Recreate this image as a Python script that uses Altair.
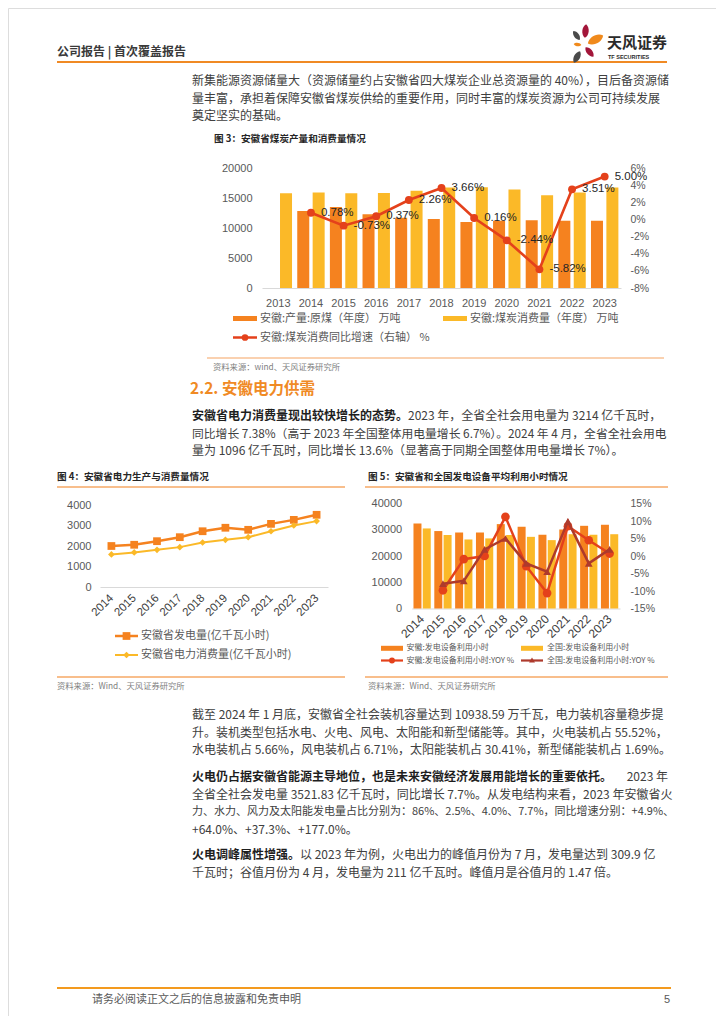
import altair as alt
import pandas as pd

# ---------------- Figure 3: coal output / consumption ----------------
coal_years = ["2013", "2014", "2015", "2016", "2017", "2018", "2019", "2020", "2021", "2022", "2023"]
coal_output = [None, 12850, 13500, 12300, 11700, 11500, 11000, 11200, 11300, 11200, 11200]
coal_consumption = [15800, 15900, 15800, 15850, 16200, 16750, 16800, 16400, 15450, 15900, 16750]
coal_growth = [None, 0.78, -0.73, 0.37, 2.26, 3.66, 0.16, -2.44, -5.82, 3.51, 5.00]
coal_series = ["安徽:产量:原煤（年度） 万吨", "安徽:煤炭消费量（年度） 万吨"]
coal_line_name = "安徽:煤炭消费同比增速（右轴） %"
coal_left_ticks = [0, 5000, 10000, 15000, 20000]
coal_right_ticks = [-8, -6, -4, -2, 0, 2, 4, 6]

# ---------------- Figure 4: power generation / consumption ----------------
power_years = ["2014", "2015", "2016", "2017", "2018", "2019", "2020", "2021", "2022", "2023"]
power_generation = [2000, 2060, 2235, 2430, 2720, 2890, 2790, 3080, 3275, 3522]
power_consumption = [1590, 1685, 1815, 1945, 2170, 2300, 2430, 2720, 3000, 3214]
power_names = ["安徽省发电量(亿千瓦小时)", "安徽省电力消费量(亿千瓦小时)"]
power_ticks = [0, 1000, 2000, 3000, 4000]

# ---------------- Figure 5: utilisation hours ----------------
hours_years = ["2014", "2015", "2016", "2017", "2018", "2019", "2020", "2021", "2022", "2023"]
hours_anhui = [32400, 29500, 28950, 28950, 32150, 31100, 28100, 30100, 31500, 31900]
hours_china = [30500, 28000, 26300, 26700, 28000, 27300, 26050, 28300, 28100, 28300]
yoy_anhui = [None, -9.8, -0.9, 0.0, 11.2, -2.9, -10.6, 8.5, 4.5, 0.7]
yoy_china = [None, -7.9, -7.1, 1.9, 5.0, -2.1, -4.5, 9.9, -2.1, 1.9]
hours_names = ["安徽:发电设备利用小时", "全国:发电设备利用小时",
               "安徽:发电设备利用小时:YOY %", "全国:发电设备利用小时:YOY %"]
hours_left_ticks = [0, 10000, 20000, 30000, 40000]
hours_right_ticks = [-15, -10, -5, 0, 5, 10, 15]

# ---------------- page text ----------------
header_text = "公司报告 | 首次覆盖报告"
para1 = ["新集能源资源储量大（资源储量约占安徽省四大煤炭企业总资源量的 40%），目后备资源储",
         "量丰富，承担着保障安徽省煤炭供给的重要作用，同时丰富的煤炭资源为公司可持续发展",
         "奠定坚实的基础。"]
fig3_title = "图 3：安徽省煤炭产量和消费量情况"
src1 = "资料来源：wind、天风证券研究所"
heading = "2.2. 安徽电力供需"
para2_bold = "安徽省电力消费量现出较快增长的态势。"
para2 = ["2023 年，全省全社会用电量为 3214 亿千瓦时，",
         "同比增长 7.38%（高于 2023 年全国整体用电量增长 6.7%）。2024 年 4 月，全省全社会用电",
         "量为 1096 亿千瓦时，同比增长 13.6%（显著高于同期全国整体用电量增长 7%）。"]
fig4_title = "图 4：安徽省电力生产与消费量情况"
fig5_title = "图 5：安徽省和全国发电设备平均利用小时情况"
src2 = "资料来源：Wind、天风证券研究所"
para3 = ["截至 2024 年 1 月底，安徽省全社会装机容量达到 10938.59 万千瓦，电力装机容量稳步提",
         "升。装机类型包括水电、火电、风电、太阳能和新型储能等。其中，火电装机占 55.52%，",
         "水电装机占 5.66%，风电装机占 6.71%，太阳能装机占 30.41%，新型储能装机占 1.69%。"]
para4_bold = "火电仍占据安徽省能源主导地位，也是未来安徽经济发展用能增长的重要依托。"
para4 = ["2023 年",
         "全省全社会发电量 3521.83 亿千瓦时，同比增长 7.7%。从发电结构来看，2023 年安徽省火",
         "力、水力、风力及太阳能发电量占比分别为：86%、2.5%、4.0%、7.7%，同比增速分别：+4.9%、",
         "+64.0%、+37.3%、+177.0%。"]
para5_bold = "火电调峰属性增强。"
para5 = ["以 2023 年为例，火电出力的峰值月份为 7 月，发电量达到 309.9 亿",
         "千瓦时；谷值月份为 4 月，发电量为 211 亿千瓦时。峰值月是谷值月的 1.47 倍。"]
footer_text = "请务必阅读正文之后的信息披露和免责申明"
page_no = "5"

# ---------------- style ----------------
W, H = 708, 1008
CJK = "Noto Sans CJK SC"
LAT = "Liberation Sans"
ORANGE = "#F5821F"
YELLOW = "#FBB928"
RED = "#E4411B"
DARKRED = "#AE3A2C"
BODY = "#404040"
BOLD = "#1E1E1E"
RULE = "#F5A462"
AXIS_GRAY = "#595959"


def X(v):
    return v - 8


def Y(v):
    return v - 8


def txt(x, y, s, size=12, color=BODY, weight="normal", font=CJK, align="left"):
    return alt.Chart().mark_text(align=align, baseline="middle", fontSize=size, font=font,
                                 fontWeight=weight, color=color).encode(
        x=alt.value(X(x)), y=alt.value(Y(y)), text=alt.value(s))


def hrule(x1, x2, y, color=RULE, width=1.0):
    return alt.Chart().mark_rule(color=color, strokeWidth=width).encode(
        x=alt.value(X(x1)), x2=alt.value(X(x2)), y=alt.value(Y(y)))


def swatch(x1, x2, y, color, h=5):
    return alt.Chart().mark_rect(color=color).encode(
        x=alt.value(X(x1)), x2=alt.value(X(x2)), y=alt.value(Y(y - h / 2)), y2=alt.value(Y(y + h / 2)))


def sym(x, y, shape, color, size, angle=0):
    return alt.Chart().mark_point(shape=shape, filled=True, color=color, size=size, opacity=1,
                                  angle=angle, strokeWidth=0).encode(
        x=alt.value(X(x)), y=alt.value(Y(y)))


def axis(orient, offset, **kw):
    base = dict(orient=orient, offset=offset, title=None, grid=False, ticks=False, tickSize=0,
                domain=False, labelFont=LAT, labelFontSize=11, labelColor=AXIS_GRAY,
                labelOverlap=False)
    base.update(kw)
    return alt.Axis(**base)


layers = []

# ---------------- header, logo ----------------
layers.append(txt(57, 51.5, header_text, size=12, color="#3A3A3A", weight="bold"))
layers.append(hrule(57, 667, 62, color="#F08A24", width=2))
PETAL = "M0,-1C0.62,-0.55,0.62,0.55,0,1C-0.62,0.55,-0.62,-0.55,0,-1Z"
layers += [
    sym(576.5, 35.5, PETAL, "#4A4A4A", 121, 324),
    sym(585.5, 31, PETAL, "#A3163A", 190, 5),
    sym(595.5, 39.5, PETAL, "#F08A1C", 300, 62),
    sym(577.5, 44.5, PETAL, "#F08A1C", 60, 278),
    sym(589.5, 52, PETAL, "#A3163A", 150, 140),
    sym(577, 57, PETAL, "#4A4A4A", 170, 208),
]
layers.append(txt(607, 43, "天风证券", size=15, color="#2B2B2B", weight="bold"))
layers.append(txt(608, 56.5, "TF SECURITIES", size=5.5, color="#2B2B2B", weight="bold", font=LAT))

# ---------------- paragraph 1 ----------------
for i, line in enumerate(para1):
    layers.append(txt(192, 81 + i * 17.5, line))
layers.append(txt(214, 139, fig3_title, size=9.6, color="#262626", weight="bold"))

# ---------------- Figure 3 chart ----------------
coal_bar_df = pd.DataFrame({
    "year": coal_years + coal_years,
    "series": [coal_series[0]] * len(coal_years) + [coal_series[1]] * len(coal_years),
    "value": coal_output + coal_consumption,
})
coal_line_df = pd.DataFrame({"year": coal_years, "growth": coal_growth})

c1_band = alt.Scale(type="band", domain=coal_years, range=[X(262), X(621)], paddingInner=0.16, paddingOuter=0.08)
c1_point = alt.Scale(type="point", domain=coal_years, range=[X(262), X(621)], padding=0.5)
c1_left = alt.Scale(domain=[0, 20000], range=[Y(288), Y(168)], nice=False, zero=False)
c1_right = alt.Scale(domain=[-8, 6], range=[Y(288), Y(168)], nice=False, zero=False)

coal_bars = alt.Chart(coal_bar_df).mark_bar().encode(
    x=alt.X("year:N", scale=c1_band,
            axis=axis("bottom", Y(288) - H, domain=True, domainColor="#D9D9D9", labelAngle=0,
                      labelPadding=9, labelFontSize=11)),
    xOffset=alt.XOffset("series:N", scale=alt.Scale(domain=coal_series, paddingInner=0.22, paddingOuter=0)),
    y=alt.Y("value:Q", scale=c1_left, stack=None,
            axis=axis("left", -X(262), values=coal_left_ticks, labelPadding=10, format="d")),
    color=alt.Color("series:N", scale=alt.Scale(domain=coal_series, range=[ORANGE, YELLOW]), legend=None),
)
coal_line = alt.Chart(coal_line_df).mark_line(color=RED, strokeWidth=2.6).encode(
    x=alt.X("year:N", scale=c1_point, axis=None),
    y=alt.Y("growth:Q", scale=c1_right,
            axis=axis("right", X(620) - W, values=coal_right_ticks, labelPadding=10, labelFontSize=10.5,
                      labelExpr="datum.value + '%'")),
)
coal_pts = alt.Chart(coal_line_df).mark_point(filled=True, shape="circle", size=62, color=RED, opacity=1).encode(
    x=alt.X("year:N", scale=c1_point, axis=None),
    y=alt.Y("growth:Q", scale=c1_right, axis=None),
)
coal_lbls = alt.Chart(coal_line_df).transform_filter("isValid(datum.growth)").transform_calculate(
    lbl="(datum.growth < 0 ? '-' : '') + format(abs(datum.growth), '.2f') + '%'"
).mark_text(align="left", baseline="middle", dx=10, fontSize=11.5, font=LAT, color="#262626").encode(
    x=alt.X("year:N", scale=c1_point, axis=None),
    y=alt.Y("growth:Q", scale=c1_right, axis=None),
    text="lbl:N",
)
layers += [coal_bars, coal_line, coal_pts, coal_lbls]

# legend figure 3
layers += [
    swatch(233, 257, 318.5, ORANGE),
    txt(260, 318.5, coal_series[0], size=11, color=AXIS_GRAY),
    swatch(443, 467, 318.5, YELLOW),
    txt(470, 318.5, coal_series[1], size=11, color=AXIS_GRAY),
    hrule(233, 257, 337.5, color=RED, width=2.5),
    sym(245, 337.5, "circle", RED, 45),
    txt(260, 337.5, coal_line_name, size=11, color=AXIS_GRAY),
]
layers.append(hrule(207, 664, 358, color=RULE, width=1.2))
layers.append(txt(213, 368, src1, size=8.3, color="#7F7F7F"))

# ---------------- heading + paragraph 2 ----------------
layers.append(txt(190, 389, heading, size=15.5, color="#F08A24", weight="bold"))
layers.append(txt(192, 416, para2_bold, color=BOLD, weight="bold"))
layers.append(txt(192 + 12 * len(para2_bold), 416, para2[0]))
layers.append(txt(192, 433.5, para2[1], size=11.8))
layers.append(txt(192, 451, para2[2]))

# ---------------- figure titles / rules ----------------
layers.append(txt(57, 477, fig4_title, size=9.6, color="#262626", weight="bold"))
layers.append(txt(368, 477, fig5_title, size=9.6, color="#262626", weight="bold"))
layers.append(hrule(57, 345, 487, color="#F8BE8C", width=2))
layers.append(hrule(365, 668, 487, color="#F8BE8C", width=2))

# ---------------- Figure 4 chart ----------------
power_df = pd.DataFrame({"year": power_years, "gen": power_generation, "cons": power_consumption})
c4_point = alt.Scale(type="point", domain=power_years, range=[X(100), X(328)], padding=0.5)
c4_y = alt.Scale(domain=[0, 4000], range=[Y(587), Y(505)], nice=False, zero=False)

gen_line = alt.Chart(power_df).mark_line(color=ORANGE, strokeWidth=2.5).encode(
    x=alt.X("year:N", scale=c4_point,
            axis=axis("bottom", Y(587) - H, domain=True, domainColor="#D9D9D9", labelAngle=-45,
                      labelAlign="right", labelBaseline="middle", labelPadding=9,
                      labelFontSize=11.5, labelColor="#404040")),
    y=alt.Y("gen:Q", scale=c4_y, axis=axis("left", -X(100), values=power_ticks, labelPadding=9, format="d")),
)
gen_pts = alt.Chart(power_df).mark_point(shape="square", filled=True, size=60, color=ORANGE, opacity=1).encode(
    x=alt.X("year:N", scale=c4_point, axis=None),
    y=alt.Y("gen:Q", scale=c4_y, axis=None),
)
cons_line = alt.Chart(power_df).mark_line(color=YELLOW, strokeWidth=2).encode(
    x=alt.X("year:N", scale=c4_point, axis=None),
    y=alt.Y("cons:Q", scale=c4_y, axis=None),
)
cons_pts = alt.Chart(power_df).mark_point(shape="diamond", filled=True, size=45, color=YELLOW, opacity=1).encode(
    x=alt.X("year:N", scale=c4_point, axis=None),
    y=alt.Y("cons:Q", scale=c4_y, axis=None),
)
layers += [gen_line, gen_pts, cons_line, cons_pts]
layers += [
    hrule(115, 138, 636, color=ORANGE, width=2.5),
    sym(126.5, 636, "square", ORANGE, 60),
    txt(141, 636, power_names[0], size=11, color=AXIS_GRAY),
    hrule(115, 138, 655, color=YELLOW, width=2),
    sym(126.5, 655, "diamond", YELLOW, 45),
    txt(141, 655, power_names[1], size=11, color=AXIS_GRAY),
]

# ---------------- Figure 5 chart ----------------
hours_bar_df = pd.DataFrame({
    "year": hours_years + hours_years,
    "series": [hours_names[0]] * len(hours_years) + [hours_names[1]] * len(hours_years),
    "value": hours_anhui + hours_china,
})
yoy_df = pd.DataFrame({"year": hours_years, "anhui": yoy_anhui, "china": yoy_china})
c5_band = alt.Scale(type="band", domain=hours_years, range=[X(411.7), X(620)], paddingInner=0.17, paddingOuter=0.085)
c5_point = alt.Scale(type="point", domain=hours_years, range=[X(411.7), X(620)], padding=0.5)
c5_left = alt.Scale(domain=[0, 40000], range=[Y(608.5), Y(503.5)], nice=False, zero=False)
c5_right = alt.Scale(domain=[-15, 15], range=[Y(608.5), Y(503.5)], nice=False, zero=False)

hours_bars = alt.Chart(hours_bar_df).mark_bar().encode(
    x=alt.X("year:N", scale=c5_band,
            axis=axis("bottom", Y(608.5) - H, domain=True, domainColor="#D9D9D9", labelAngle=-45,
                      labelAlign="right", labelBaseline="middle", labelPadding=8,
                      labelFontSize=12, labelColor="#404040")),
    xOffset=alt.XOffset("series:N", scale=alt.Scale(domain=hours_names[:2], paddingInner=0.14, paddingOuter=0)),
    y=alt.Y("value:Q", scale=c5_left, stack=None,
            axis=axis("left", -X(411.7), values=hours_left_ticks, labelPadding=10, format="d")),
    color=alt.Color("series:N", scale=alt.Scale(domain=hours_names[:2], range=[ORANGE, YELLOW]), legend=None),
)
anhui_line = alt.Chart(yoy_df).mark_line(color=RED, strokeWidth=2.5).encode(
    x=alt.X("year:N", scale=c5_point, axis=None),
    y=alt.Y("anhui:Q", scale=c5_right,
            axis=axis("right", X(620) - W, values=hours_right_ticks, labelPadding=10, labelFontSize=10.5,
                      labelExpr="datum.value + '%'")),
)
anhui_pts = alt.Chart(yoy_df).mark_point(shape="circle", filled=True, size=75, color=RED, opacity=1).encode(
    x=alt.X("year:N", scale=c5_point, axis=None),
    y=alt.Y("anhui:Q", scale=c5_right, axis=None),
)
china_line = alt.Chart(yoy_df).mark_line(color=DARKRED, strokeWidth=2.5).encode(
    x=alt.X("year:N", scale=c5_point, axis=None),
    y=alt.Y("china:Q", scale=c5_right, axis=None),
)
china_pts = alt.Chart(yoy_df).mark_point(shape="triangle-up", filled=True, size=60, color=DARKRED, opacity=1).encode(
    x=alt.X("year:N", scale=c5_point, axis=None),
    y=alt.Y("china:Q", scale=c5_right, axis=None),
)
layers += [hours_bars, anhui_line, anhui_pts, china_line, china_pts]
layers += [
    swatch(381, 403, 648.3, ORANGE),
    txt(406.5, 648.3, hours_names[0], size=8, color=AXIS_GRAY),
    swatch(521, 543, 648.3, YELLOW),
    txt(547, 648.3, hours_names[1], size=8, color=AXIS_GRAY),
    hrule(381, 403, 660.5, color=RED, width=2.2),
    sym(392, 660.5, "circle", RED, 35),
    txt(406.5, 660.5, hours_names[2], size=8, color=AXIS_GRAY),
    hrule(521, 543, 660.5, color=DARKRED, width=2.2),
    sym(532, 660, "triangle-up", DARKRED, 35),
    txt(547, 660.5, hours_names[3], size=8, color=AXIS_GRAY),
]

# ---------------- bottom rules and sources ----------------
layers.append(hrule(57, 345, 677, color="#F8BE8C", width=2))
layers.append(hrule(365, 668, 677, color="#F8BE8C", width=2))
layers.append(txt(57, 687, src2, size=8.3, color="#7F7F7F"))
layers.append(txt(368, 687, src2, size=8.3, color="#7F7F7F"))

# ---------------- paragraphs 3-5 ----------------
for i, line in enumerate(para3):
    layers.append(txt(192, 715 + i * 17.5, line))
layers.append(txt(192, 777, para4_bold, color=BOLD, weight="bold"))
layers.append(txt(668, 777, para4[0], align="right"))
para4_sizes = [12, 11, 12]
for i, line in enumerate(para4[1:]):
    layers.append(txt(192, 794.5 + i * 17.5, line, size=para4_sizes[i]))
layers.append(txt(192, 855, para5_bold, color=BOLD, weight="bold"))
layers.append(txt(192 + 12 * len(para5_bold), 855, para5[0]))
layers.append(txt(192, 872.5, para5[1]))

# ---------------- footer ----------------
layers.append(hrule(57, 671, 988, color="#F39A1E", width=2))
layers.append(txt(92, 1000, footer_text, size=11, color=AXIS_GRAY))
layers.append(txt(664, 1000, page_no, size=11, color=AXIS_GRAY, font=LAT))

dummy = pd.DataFrame({"k": [0]})
chart = alt.layer(*layers, data=dummy).resolve_scale(
    x="independent", y="independent", xOffset="independent", color="independent"
).resolve_axis(x="independent", y="independent").properties(
    width=W, height=H, autosize=alt.AutoSizeParams(type="none"), padding=0,
    background="white",
).configure_view(stroke=None).configure(font=CJK)

chart.save("out.html", embed_options={"renderer": "svg", "actions": False})
